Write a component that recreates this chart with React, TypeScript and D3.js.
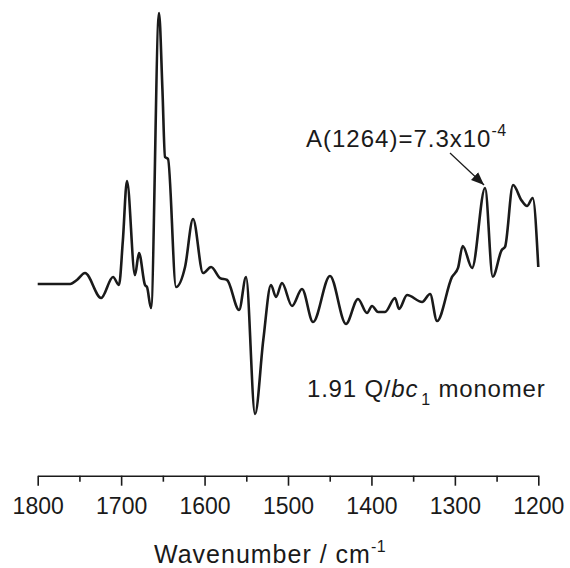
import { useEffect, useRef } from "react";
import * as d3 from "d3";

// difference spectrum, wavenumber (cm-1) vs absorbance in units of 1e-4
const wavenumbers = [
  1800, 1761, 1753, 1743.3, 1724, 1709.7, 1702.6, 1698, 1693, 1683.4, 1678.6, 1671.4, 1669, 1664.2,
  1654.6, 1650.5, 1647.4, 1643.8, 1634.2, 1623.4, 1613.8, 1601.8, 1592.2, 1581.4, 1573, 1558.6,
  1550.3, 1539.5, 1529.6, 1520.4, 1514.4, 1507.2, 1495.2, 1483.2, 1470, 1449.7, 1430.5, 1416.1,
  1405.3, 1399.3, 1392.1, 1383.7, 1371.7, 1366.9, 1357.3, 1339.3, 1329.7, 1321.4, 1303.4, 1296.2,
  1290.6, 1279.4, 1263.8, 1254.6, 1243.8, 1239.9, 1230.3, 1219.9, 1213.5, 1206.7, 1200,
];
const absorbance = [
  0, 0, 0.33, 0.9, -1.15, 0.58, -0.08, 3.5, 8.48, 0.74, 2.55, -0.08, -0.25, -1.98,
  22.3, 16, 10.45, 10.29, -0.25, 1.4, 5.35, 0.9, 1.4, 0.49, 0.33, -2.14,
  0.58, -10.7, -4.6, -0.08, -1.07, 0.08, -1.81, -0.41, -3.13, 0.66, -3.29, -1.23,
  -2.39, -1.81, -2.3, -2.3, -1.15, -2.06, -0.91, -1.48, -0.82, -3.05, 0.58, 1.32,
  3.13, 1.32, 7.9, 0.6, 2.8, 3.05, 8.15, 6.86, 6.42, 7.08, 1.4,
];
const majorTicks = [1800, 1700, 1600, 1500, 1400, 1300, 1200];
const minorTicks = [1750, 1650, 1550, 1450, 1350, 1250];

const W = 570;
const H = 568;
const axisY = 475.7;
const ink = "#1a1a1a";

export default function App() {
  const axisRef = useRef<SVGGElement>(null);
  const minorRef = useRef<SVGGElement>(null);

  const x = d3.scaleLinear().domain([1800, 1200]).range([37.7, 538.3]);
  const y = d3.scaleLinear().domain([-15, 23]).range([466.25, 4.55]);

  const points: [number, number][] = wavenumbers.map((w, i) => [w, absorbance[i]]);
  const line = d3
    .line<[number, number]>()
    .x((d) => x(d[0]))
    .y((d) => y(d[1]))
    .curve(d3.curveMonotoneX);

  useEffect(() => {
    const major = d3
      .axisBottom(x)
      .tickValues(majorTicks)
      .tickSize(10)
      .tickSizeOuter(0)
      .tickPadding(6)
      .tickFormat(d3.format("d"));
    const g = d3.select(axisRef.current!);
    g.call(major);
    g.selectAll("path, line").attr("stroke", ink).attr("stroke-width", 1.6);
    g.selectAll("text")
      .attr("fill", ink)
      .attr("font-size", 23)
      .attr("font-family", "Liberation Sans, Arial, sans-serif")
      .attr("dy", "0.95em");

    const minor = d3
      .axisBottom(x)
      .tickValues(minorTicks)
      .tickSize(6)
      .tickSizeOuter(0)
      .tickFormat(() => "");
    const m = d3.select(minorRef.current!);
    m.call(minor);
    m.select(".domain").remove();
    m.selectAll("line").attr("stroke", ink).attr("stroke-width", 1.6);
  }, []);

  const font = "Liberation Sans, Arial, sans-serif";

  return (
    <svg
      width={W}
      height={H}
      style={{ position: "absolute", left: 0, top: 0, background: "white" }}
    >
      <defs>
        <marker
          id="arrow"
          viewBox="0 0 10 10"
          refX="10"
          refY="5"
          markerWidth="13"
          markerHeight="13"
          markerUnits="userSpaceOnUse"
          orient="auto"
        >
          <path d="M0,1 L10,5 L0,9 Z" fill={ink} />
        </marker>
      </defs>

      <path
        d={line(points) ?? ""}
        fill="none"
        stroke={ink}
        strokeWidth={2.6}
        strokeLinejoin="round"
      />

      <g ref={axisRef} transform={`translate(0,${axisY})`} />
      <g ref={minorRef} transform={`translate(0,${axisY})`} />

      <text x={154} y={563} fontSize={25} fontFamily={font} fill={ink} letterSpacing={1}>
        Wavenumber / cm
        <tspan fontSize={16} dy={-11} letterSpacing={0.5} fill={ink}>-1</tspan>
      </text>

      <text x={306} y={147} fontSize={24} fontFamily={font} fill={ink} letterSpacing={1}>
        A(1264)=7.3x10
        <tspan fontSize={16} dy={-11} letterSpacing={0.5} fill={ink}>-4</tspan>
      </text>
      <line
        x1={450}
        y1={153}
        x2={x(1265)}
        y2={y(7.9) - 3}
        stroke={ink}
        strokeWidth={1.2}
        markerEnd="url(#arrow)"
      />

      <text x={307} y={397} fontSize={24} fontFamily={font} fill={ink} letterSpacing={0.8}>
        1.91 Q/
        <tspan fontStyle="italic" fill={ink}>bc</tspan>
        <tspan fontSize={16} dy={8} dx={3} fill={ink}>1</tspan>
        <tspan dy={-8} fill={ink}> monomer</tspan>
      </text>
    </svg>
  );
}
